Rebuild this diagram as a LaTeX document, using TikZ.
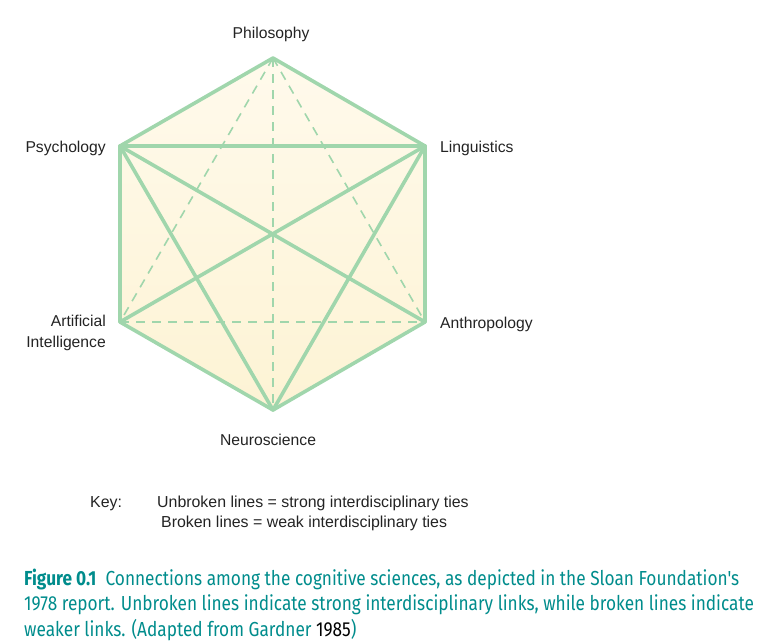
\documentclass[tikz,border=0pt]{standalone}
\usepackage{fontspec}
\setmainfont{Liberation Sans}
\newfontfamily\capfont[FakeStretch=0.85]{Fira Sans}
\usetikzlibrary{calc}
\definecolor{tiegreen}{RGB}{160,214,172}
\definecolor{hexfill}{RGB}{253,243,212}
\definecolor{hextop}{RGB}{255,250,236}
\definecolor{capteal}{RGB}{0,140,140}
\definecolor{lbltext}{RGB}{35,35,35}
\tikzset{
    % ties between fields
    strongtie/.style={draw=tiegreen, line width=3.6pt, line join=round, line cap=round},
    weaktie/.style={draw=tiegreen, line width=1.6pt, dash pattern=on 9pt off 7pt},
    % labels
    fieldlbl/.style={inner sep=0pt, font=\fontsize{15.7}{19}\selectfont, text=lbltext},
    keytxt/.style={inner sep=0pt, font=\fontsize{15.9}{19}\selectfont, text=lbltext},
    captxt/.style={inner sep=0pt, align=left, text=capteal,
                   font=\capfont\fontsize{20.3}{25.5}\selectfont},
}
\begin{document}
\begin{tikzpicture}[x=1pt, y=-1pt]
\useasboundingbox (0,0) rectangle (767,641);

% vertices of the hexagon
\coordinate (phil) at (273,58);
\coordinate (ling) at (425,146);
\coordinate (anth) at (425,322);
\coordinate (neur) at (273,410);
\coordinate (ai)   at (120,322);
\coordinate (psy)  at (120,146);

\shade[top color=hextop, bottom color=hexfill]
    (phil) -- (ling) -- (anth) -- (neur) -- (ai) -- (psy) -- cycle;

% broken lines = weak ties
\draw[weaktie] (phil) -- (neur);
\draw[weaktie] (phil) -- (ai);
\draw[weaktie] (phil) -- (anth);
\draw[weaktie] (ai) -- (anth);

% unbroken lines = strong ties
\draw[strongtie] (phil) -- (ling) -- (anth) -- (neur) -- (ai) -- (psy) -- cycle;
\draw[strongtie] (psy) -- (ling);
\draw[strongtie] (psy) -- (anth);
\draw[strongtie] (psy) -- (neur);
\draw[strongtie] (ling) -- (ai);
\draw[strongtie] (ling) -- (neur);

% field names
\node[fieldlbl, anchor=base]      (philname) at (271,38)  {Philosophy};
\node[fieldlbl, anchor=base east] (psyname)  at (106,152) {Psychology};
\node[fieldlbl, anchor=base west] (lingname) at (440,152) {Linguistics};
\node[fieldlbl, anchor=base east] (ainame)   at (106,326) {Artificial};
\node[fieldlbl, anchor=base east] (ainame2)  at (106,347) {Intelligence};
\node[fieldlbl, anchor=base west] (anthname) at (440,328) {Anthropology};
\node[fieldlbl, anchor=base]      (neurname) at (268,445) {Neuroscience};

% key
\node[keytxt, anchor=base west] (keyhead)   at (90,507)  {Key:};
\node[keytxt, anchor=base west] (keystrong) at (157,507) {Unbroken lines = strong interdisciplinary ties};
\node[keytxt, anchor=base west] (keyweak)   at (161,527) {Broken lines = weak interdisciplinary ties};

% caption (base anchor sits on the last line)
\node[captxt, anchor=base west] (caption) at (24,636)
    {\textbf{Figure 0.1}\ \ Connections among the cognitive sciences, as depicted in the Sloan Foundation's\\
     1978 report. Unbroken lines indicate strong interdisciplinary links, while broken lines indicate\\
     weaker links. (Adapted from Gardner \textcolor{black}{1985})};
\end{tikzpicture}
\end{document}
